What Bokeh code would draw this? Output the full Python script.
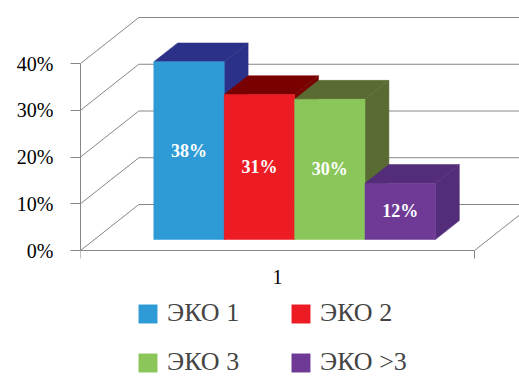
from bokeh.plotting import figure
from bokeh.models import FixedTicker, Range1d, Legend, LegendItem
from bokeh.embed import file_html
from bokeh.resources import INLINE
from bokeh.core.properties import value

# ---- data ----
categories = ["1"]
series = ["ЭКО 1", "ЭКО 2", "ЭКО 3", "ЭКО >3"]
values = [0.38, 0.31, 0.30, 0.12]
value_labels = ["38%", "31%", "30%", "12%"]
y_ticks = [0.0, 0.1, 0.2, 0.3, 0.4]
y_tick_labels = ["0%", "10%", "20%", "30%", "40%"]
front_colors = ["#2E9BD6", "#ED1C24", "#8BC65B", "#6F3A96"]
dark_colors = ["#2B3089", "#780000", "#5A6A33", "#532C7A"]

# ---- 3D projection (oblique) in data units ----
DX, DY = 0.148, 0.0984      # screen shift of one unit of depth
X0, W = 0.1505, 0.1787      # cluster start and bar width (category spans 0..1)
D0, D1 = 0.24, 0.65         # bar front / back depth
GRID = "#868686"
SERIF = "Liberation Serif"

p = figure(width=519, height=376, x_range=Range1d(0, 1.1142), y_range=Range1d(-0.2695, 0.5348),
           output_backend="svg", toolbar_location=None,
           min_border_left=80, min_border_right=0, min_border_top=0, min_border_bottom=0)
p.grid.visible = False
p.outline_line_color = None
p.background_fill_color = "white"
p.border_fill_color = "white"

# walls / floor lines
gx, gy = [], []
for t in y_ticks:
    gx.append([0, DX, 1 + DX])
    gy.append([t, t + DY, t + DY])
gx.append([1, 1 + DX])
gy.append([0, DY])
p.multi_line(gx, gy, line_color=GRID, line_width=1)

# bars
items = []
for i, (name, v, fc, dc, lab) in enumerate(zip(series, values, front_colors, dark_colors, value_labels)):
    xl = X0 + i * W
    xr = xl + W
    side_x = [xr + D0 * DX, xr + D1 * DX, xr + D1 * DX, xr + D0 * DX]
    side_y = [D0 * DY, D1 * DY, v + D1 * DY, v + D0 * DY]
    top_x = [xl + D0 * DX, xr + D0 * DX, xr + D1 * DX, xl + D1 * DX]
    top_y = [v + D0 * DY, v + D0 * DY, v + D1 * DY, v + D1 * DY]
    p.patch(side_x, side_y, fill_color=dc, line_color=dc, line_width=0.5)
    p.patch(top_x, top_y, fill_color=dc, line_color=dc, line_width=0.5)
    r = p.quad(left=[xl + D0 * DX], right=[xr + D0 * DX], bottom=[D0 * DY], top=[v + D0 * DY],
               fill_color=fc, line_color=fc, line_width=0.5)
    items.append(LegendItem(label=name, renderers=[r]))
    p.text(x=[(xl + xr) / 2 + D0 * DX], y=[v / 2 + D0 * DY], text=[lab],
           text_color="white", text_font=value(SERIF), text_font_style="bold",
           text_font_size="18px", text_align="center", text_baseline="middle")

# y axis
ya = p.yaxis[0]
ya.ticker = FixedTicker(ticks=y_ticks, minor_ticks=[])
ya.major_label_overrides = {t: l for t, l in zip(y_ticks, y_tick_labels)}
ya.bounds = (0, 0.4)
ya.axis_line_color = GRID
ya.major_tick_line_color = GRID
ya.major_tick_in = 0
ya.major_tick_out = 10
ya.major_label_standoff = 17
ya.major_label_text_font = SERIF
ya.major_label_text_font_size = "20px"
ya.major_label_text_color = "black"

# x axis, drawn at y = 0 inside the frame
xa = p.xaxis[0]
xa.fixed_location = 0
xa.ticker = FixedTicker(ticks=[0.5], minor_ticks=[0, 1])
xa.major_label_overrides = {0.5: categories[0]}
xa.bounds = (0, 1)
xa.axis_line_color = GRID
xa.major_tick_line_color = None
xa.major_tick_in = 0
xa.major_tick_out = 0
xa.minor_tick_line_color = GRID
xa.minor_tick_in = 0
xa.minor_tick_out = 8
xa.major_label_standoff = 11
xa.major_label_text_font = SERIF
xa.major_label_text_font_size = "20px"
xa.major_label_text_color = "black"

legend = Legend(items=items, orientation="horizontal", ncols=2, location=(56, -1),
                border_line_color=None, background_fill_alpha=0, padding=0, margin=0,
                spacing=19, glyph_width=23, glyph_height=23, label_standoff=8,
                label_text_font=SERIF, label_text_font_size="26px", label_width=103,
                click_policy="none")
p.add_layout(legend, "center")

open("out.html", "w").write(file_html(p, INLINE))
